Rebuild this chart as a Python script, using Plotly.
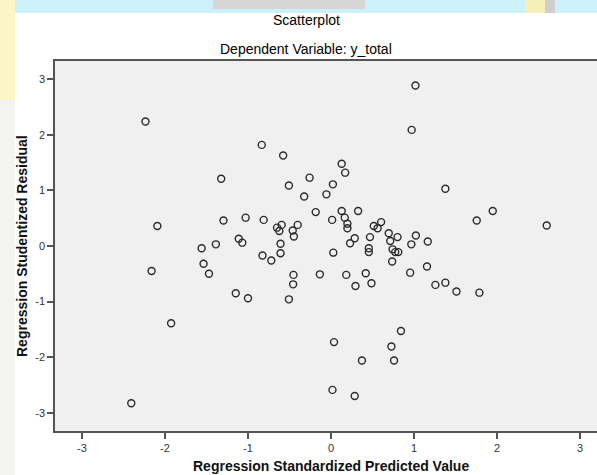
import plotly.graph_objects as go

# Regression Standardized Predicted Value
pred = [1.018, -2.235, 0.972, -0.834, -0.576, 0.129, 0.171, -1.323, -0.258, -0.507,
        0.023, 1.378, -0.055, -0.323, -0.184, 0.129, 0.327, 1.949, 1.756, -1.295,
        -1.028, -0.811, 0.014, 0.166, -2.092, 2.599, -0.650, -0.594, -0.622, -0.401,
        -0.461, -0.447, 0.198, 0.198, 0.516, 0.562, 0.604, 0.696, 0.714, 0.802,
        1.023, 1.166, 0.968, 0.286, 0.230, 0.470, -1.111, -1.069, -1.387, -1.558,
        -0.608, -0.608, -0.825, -0.719, 0.028, 0.456, 0.456, 0.742, 0.774, 0.811,
        0.737, -1.535, -1.470, -2.161, -0.452, -0.456, -0.134, 0.184, 0.419, 0.488,
        0.295, 0.954, 1.157, 1.258, 1.378, 1.512, 1.788, -1.147, -1.000, -0.507,
        -1.926, 0.843, 0.037, 0.728, 0.373, 0.760, 0.018, 0.286, -2.406]

# Regression Studentized Residual
resid = [2.89, 2.24, 2.09, 1.82, 1.63, 1.48, 1.32, 1.21, 1.23, 1.09,
         1.11, 1.03, 0.93, 0.89, 0.61, 0.63, 0.63, 0.63, 0.46, 0.46,
         0.51, 0.47, 0.47, 0.51, 0.36, 0.37, 0.33, 0.38, 0.27, 0.38,
         0.28, 0.17, 0.40, 0.32, 0.36, 0.32, 0.43, 0.23, 0.09, 0.16,
         0.19, 0.08, 0.03, 0.14, 0.05, 0.16, 0.13, 0.06, 0.03, -0.04,
         0.04, -0.13, -0.17, -0.26, -0.12, -0.04, -0.11, -0.06, -0.11, -0.11,
         -0.28, -0.32, -0.50, -0.45, -0.52, -0.69, -0.51, -0.52, -0.49, -0.67,
         -0.72, -0.48, -0.37, -0.70, -0.66, -0.82, -0.84, -0.85, -0.94, -0.96,
         -1.39, -1.53, -1.73, -1.81, -2.06, -2.06, -2.59, -2.70, -2.83]

tick_vals = [-3, -2, -1, 0, 1, 2, 3]
tick_text = ["-3", "-2", "-1", "0", "1", "2", "3"]

W, H = 597, 475
L, R, T, B = 55, 0, 61, 44
PW, PH = W - L - R, H - T - B


def px(x):
    return (x - L) / PW


def py(y):
    return (H - B - y) / PH


FONT = "Arial, 'Liberation Sans', sans-serif"

fig = go.Figure()
fig.add_trace(go.Scatter(
    x=pred, y=resid, mode="markers",
    marker=dict(symbol="circle-open", size=7, color="#2a2a2a",
                line=dict(width=1.4, color="#2a2a2a")),
    hoverinfo="x+y", showlegend=False,
))

shapes = [
    # faint watermark pieces outside the chart
    dict(type="rect", xref="paper", yref="paper", x0=px(0), x1=px(W), y0=py(0), y1=py(13),
         fillcolor="#ccf1fb", line=dict(width=0), layer="below"),
    dict(type="rect", xref="paper", yref="paper", x0=px(0), x1=px(15), y0=py(0), y1=py(100),
         fillcolor="#fbf6c6", line=dict(width=0), layer="below"),
    dict(type="rect", xref="paper", yref="paper", x0=px(0), x1=px(15), y0=py(100), y1=py(H),
         fillcolor="#f3f3f1", line=dict(width=0), layer="below"),
    dict(type="rect", xref="paper", yref="paper", x0=px(213), x1=px(365), y0=py(0), y1=py(9),
         fillcolor="#d6d6d6", line=dict(width=0), layer="below"),
    dict(type="rect", xref="paper", yref="paper", x0=px(525), x1=px(545), y0=py(0), y1=py(13),
         fillcolor="#f5efb8", line=dict(width=0), layer="below"),
    dict(type="rect", xref="paper", yref="paper", x0=px(545), x1=px(555), y0=py(0), y1=py(13),
         fillcolor="#cfcfcf", line=dict(width=0), layer="below"),
]

annotations = [
    dict(text="Scatterplot", xref="paper", yref="paper", x=px(306), y=py(20),
         showarrow=False, xanchor="center", yanchor="middle",
         font=dict(family=FONT, size=14, color="#000000")),
    dict(text="Dependent Variable: y_total", xref="paper", yref="paper", x=px(306), y=py(49),
         showarrow=False, xanchor="center", yanchor="middle",
         font=dict(family=FONT, size=14, color="#000000")),
    dict(text="<b>Regression Standardized Predicted Value</b>", xref="paper", yref="paper",
         x=px(331), y=py(466), showarrow=False, xanchor="center", yanchor="middle",
         font=dict(family=FONT, size=14, color="#111111")),
    dict(text="<b>Regression Studentized Residual</b>", xref="paper", yref="paper",
         x=px(22), y=py(246), showarrow=False, xanchor="center", yanchor="middle",
         textangle=-90, font=dict(family=FONT, size=14, color="#111111")),
]

fig.update_layout(
    width=W, height=H,
    margin=dict(l=L, r=R, t=T, b=B, pad=0),
    paper_bgcolor="white", plot_bgcolor="#f0f0f0",
    font=dict(family=FONT, size=11, color="#333333"),
    shapes=shapes, annotations=annotations,
    showlegend=False,
)
fig.update_xaxes(
    range=[-3.325, 3.205], tickvals=tick_vals, ticktext=tick_text,
    showgrid=False, zeroline=False, showline=True, linecolor="#555555", linewidth=1.5,
    mirror=True, ticks="outside", ticklen=6, tickcolor="#555555", tickwidth=1.5,
    tickfont=dict(family=FONT, size=11, color="#333333"),
)
fig.update_yaxes(
    range=[-3.33, 3.33], tickvals=tick_vals, ticktext=tick_text,
    showgrid=False, zeroline=False, showline=True, linecolor="#555555", linewidth=1.5,
    mirror=False, ticks="outside", ticklen=6, tickcolor="#555555", tickwidth=1.5,
    tickfont=dict(family=FONT, size=11, color="#333333"),
)

fig.write_html(
    "out.html",
    config={"displayModeBar": False},
    post_script="document.body.style.margin='0';document.body.style.overflow='hidden';",
)
